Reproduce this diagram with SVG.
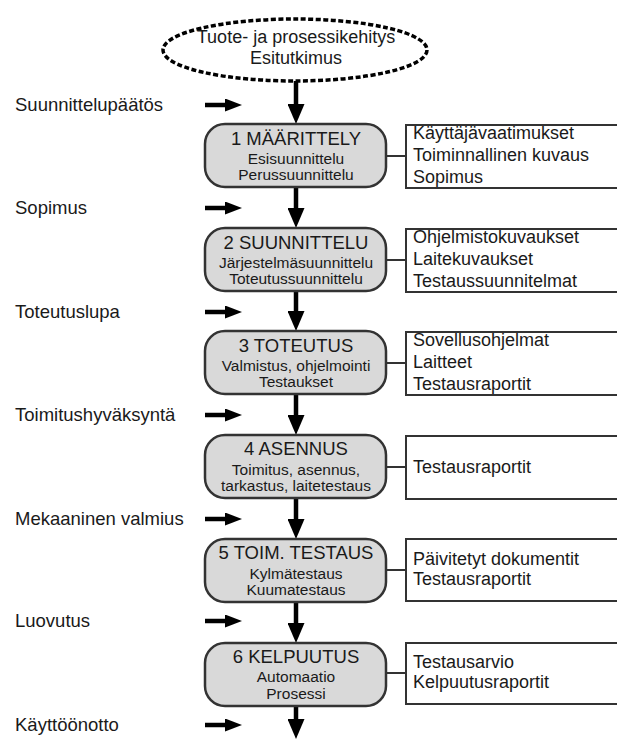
<svg xmlns="http://www.w3.org/2000/svg" width="617" height="739" viewBox="0 0 617 739">
<style>
text{font-family:"Liberation Sans",Arial,sans-serif;fill:#1a1a1a}
.lbl{font-size:18.5px}
.ttl{font-size:18.5px;text-anchor:middle}
.sub{font-size:15.5px;text-anchor:middle}
.doc{font-size:18px}
.phase{fill:#d9d9d9;stroke:#333;stroke-width:2.5}
.out{fill:#fff;stroke:#333;stroke-width:2}
.link{stroke:#333;stroke-width:2}
.flow{stroke:#000;stroke-width:4.5;fill:none}
.in{stroke:#000;stroke-width:4.5;fill:none}
</style>
<defs>
<marker id="ah" viewBox="0 -8.5 20 17" refX="8" refY="0" markerWidth="20" markerHeight="17" markerUnits="userSpaceOnUse" orient="auto">
<path d="M0,-8.5 L20,0 L0,8.5 z" fill="#000"/>
</marker>
<marker id="sh" viewBox="0 -6.5 17 13" refX="7" refY="0" markerWidth="17" markerHeight="13" markerUnits="userSpaceOnUse" orient="auto">
<path d="M0,-6.5 L17,0 L0,6.5 z" fill="#000"/>
</marker>
</defs>
<rect width="617" height="739" fill="#fff"/>

<g id="connectors">
<line class="flow" x1="296" y1="81" x2="296" y2="112" marker-end="url(#ah)"/>
<line class="flow" x1="296" y1="187" x2="296" y2="216" marker-end="url(#ah)"/>
<line class="flow" x1="296" y1="291" x2="296" y2="319" marker-end="url(#ah)"/>
<line class="flow" x1="296" y1="394" x2="296" y2="423" marker-end="url(#ah)"/>
<line class="flow" x1="296" y1="498" x2="296" y2="527" marker-end="url(#ah)"/>
<line class="flow" x1="296" y1="602" x2="296" y2="631" marker-end="url(#ah)"/>
<line class="flow" x1="296" y1="706" x2="296" y2="727" marker-end="url(#ah)"/>
<line class="in" x1="205" y1="105" x2="232" y2="105" marker-end="url(#sh)"/>
<line class="in" x1="205" y1="208" x2="232" y2="208" marker-end="url(#sh)"/>
<line class="in" x1="205" y1="312" x2="232" y2="312" marker-end="url(#sh)"/>
<line class="in" x1="205" y1="415" x2="232" y2="415" marker-end="url(#sh)"/>
<line class="in" x1="205" y1="519" x2="232" y2="519" marker-end="url(#sh)"/>
<line class="in" x1="205" y1="621" x2="232" y2="621" marker-end="url(#sh)"/>
<line class="in" x1="205" y1="725" x2="232" y2="725" marker-end="url(#sh)"/>
<line class="link" x1="386" y1="156" x2="406" y2="156"/>
<line class="link" x1="386" y1="260" x2="406" y2="260"/>
<line class="link" x1="386" y1="363" x2="406" y2="363"/>
<line class="link" x1="386" y1="467" x2="406" y2="467"/>
<line class="link" x1="386" y1="570" x2="406" y2="570"/>
<line class="link" x1="386" y1="673" x2="406" y2="673"/>
</g>

<g id="start">
<ellipse cx="295" cy="50" rx="132" ry="31" fill="#fff" stroke="#000" stroke-width="3.5" stroke-dasharray="5 2.5"/>
<text class="ttl" style="font-size:18px" x="296" y="43">Tuote- ja prosessikehitys</text>
<text class="ttl" style="font-size:18px" x="296" y="64">Esitutkimus</text>
</g>

<g id="labels">
<text class="lbl" x="15" y="111">Suunnittelupäätös</text>
<text class="lbl" x="15" y="214">Sopimus</text>
<text class="lbl" x="15" y="318">Toteutuslupa</text>
<text class="lbl" x="15" y="421">Toimitushyväksyntä</text>
<text class="lbl" x="15" y="525">Mekaaninen valmius</text>
<text class="lbl" x="15" y="627">Luovutus</text>
<text class="lbl" x="15" y="731">Käyttöönotto</text>
</g>

<g id="phase1">
<rect class="phase" x="205" y="124" width="181" height="63" rx="20"/>
<text class="ttl" x="296" y="145">1 MÄÄRITTELY</text>
<text class="sub" x="296" y="164">Esisuunnittelu</text>
<text class="sub" x="296" y="180">Perussuunnittelu</text>
</g>
<g id="out1">
<rect class="out" x="406" y="125" width="220" height="63"/>
<text class="doc" x="413" y="139">Käyttäjävaatimukset</text>
<text class="doc" x="413" y="161">Toiminnallinen kuvaus</text>
<text class="doc" x="413" y="183">Sopimus</text>
</g>

<g id="phase2">
<rect class="phase" x="205" y="228" width="181" height="63" rx="20"/>
<text class="ttl" x="296" y="249">2 SUUNNITTELU</text>
<text class="sub" x="296" y="268">Järjestelmäsuunnittelu</text>
<text class="sub" x="296" y="284">Toteutussuunnittelu</text>
</g>
<g id="out2">
<rect class="out" x="406" y="229" width="220" height="63"/>
<text class="doc" x="413" y="243">Ohjelmistokuvaukset</text>
<text class="doc" x="413" y="265">Laitekuvaukset</text>
<text class="doc" x="413" y="287">Testaussuunnitelmat</text>
</g>

<g id="phase3">
<rect class="phase" x="205" y="331" width="181" height="63" rx="20"/>
<text class="ttl" x="296" y="352">3 TOTEUTUS</text>
<text class="sub" x="296" y="371">Valmistus, ohjelmointi</text>
<text class="sub" x="296" y="387">Testaukset</text>
</g>
<g id="out3">
<rect class="out" x="406" y="332" width="220" height="63"/>
<text class="doc" x="413" y="346">Sovellusohjelmat</text>
<text class="doc" x="413" y="368">Laitteet</text>
<text class="doc" x="413" y="390">Testausraportit</text>
</g>

<g id="phase4">
<rect class="phase" x="205" y="435" width="181" height="63" rx="20"/>
<text class="ttl" x="296" y="455">4 ASENNUS</text>
<text class="sub" x="296" y="475">Toimitus, asennus,</text>
<text class="sub" x="296" y="491">tarkastus, laitetestaus</text>
</g>
<g id="out4">
<rect class="out" x="406" y="436" width="220" height="63"/>
<text class="doc" x="413" y="473">Testausraportit</text>
</g>

<g id="phase5">
<rect class="phase" x="205" y="539" width="181" height="63" rx="20"/>
<text class="ttl" x="296" y="559">5 TOIM. TESTAUS</text>
<text class="sub" x="296" y="579">Kylmätestaus</text>
<text class="sub" x="296" y="595">Kuumatestaus</text>
</g>
<g id="out5">
<rect class="out" x="406" y="539" width="220" height="62"/>
<text class="doc" x="413" y="565">Päivitetyt dokumentit</text>
<text class="doc" x="413" y="585">Testausraportit</text>
</g>

<g id="phase6">
<rect class="phase" x="205" y="643" width="181" height="63" rx="20"/>
<text class="ttl" x="296" y="663">6 KELPUUTUS</text>
<text class="sub" x="296" y="682">Automaatio</text>
<text class="sub" x="296" y="699">Prosessi</text>
</g>
<g id="out6">
<rect class="out" x="406" y="643" width="220" height="61"/>
<text class="doc" x="413" y="668">Testausarvio</text>
<text class="doc" x="413" y="688">Kelpuutusraportit</text>
</g>
</svg>
